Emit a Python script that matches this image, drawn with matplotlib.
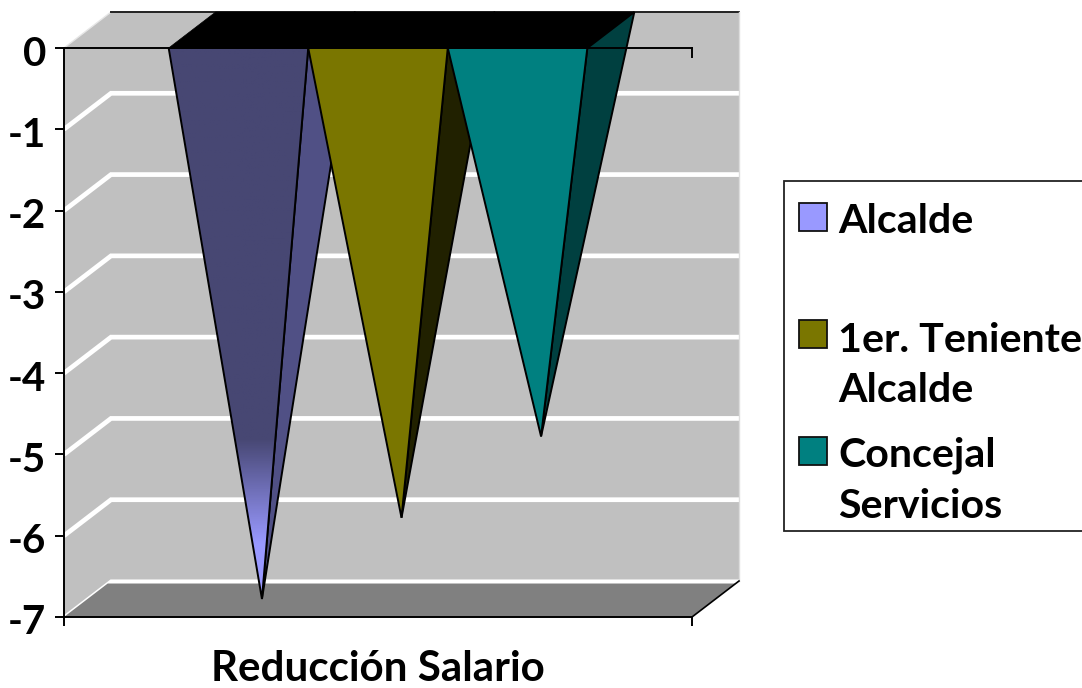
import numpy as np
import matplotlib
matplotlib.use("Agg")
import matplotlib.pyplot as plt
from matplotlib.patches import Polygon, Rectangle
from matplotlib.colors import LinearSegmentedColormap
from matplotlib.transforms import ScaledTranslation

# ---- data ----
series_names = ["Alcalde", "1er. Teniente\nAlcalde", "Concejal\nServicios"]
series_values = [-7, -6, -5]
y_ticks = [0, -1, -2, -3, -4, -5, -6, -7]
y_tick_labels = ["0", "-1", "-2", "-3", "-4", "-5", "-6", "-7"]
x_label = "Reducción Salario"
front_colors = ["#474773", "#7A7600", "#008080"]
side_colors = ["#505085", "#212100", "#004040"]
legend_colors = ["#9999FF", "#7A7600", "#008080"]

W, H = 1082, 688
plt.rcParams["font.family"] = ["Lato", "DejaVu Sans"]
fig = plt.figure(figsize=(W / 100, H / 100), dpi=100, facecolor="white")
ax = fig.add_axes([64 / W, 1 - 617 / H, 628 / W, 569 / H])
XMAX = 4.5
ax.set_xlim(0, XMAX)
ax.set_ylim(-7, 0)

# oblique depth, in data units
DX = 47 / (628 / XMAX)
DY = 36 / (569 / 7)


def proj(x, v, d=0.0):
    return (x + d * DX, v + d * DY)


def poly(pts, fc, ec="none", lw=0.0, z=1.0):
    p = Polygon(pts, closed=True, facecolor=fc, edgecolor=ec, linewidth=lw,
                zorder=z, clip_on=False, joinstyle="miter")
    ax.add_patch(p)
    return p


ymin = min(y_ticks)
ymax = max(y_ticks)
# walls and floor
poly([proj(0, ymax, 1), proj(XMAX, ymax, 1), proj(XMAX, ymin, 1), proj(0, ymin, 1)], "#C0C0C0", z=1)
poly([proj(0, ymax, 0), proj(0, ymax, 1), proj(0, ymin, 1), proj(0, ymin, 0)], "#C0C0C0", z=1)

# gridlines
for t in y_ticks[1:]:
    a, b, c = proj(0, t, 0), proj(0, t, 1), proj(XMAX, t, 1)
    lw = 3.4 if t != ymin else 2.2
    ax.plot([a[0], b[0], c[0]], [a[1], b[1], c[1]], color="white", lw=lw, zorder=1.1,
            clip_on=False, solid_joinstyle="miter", solid_capstyle="butt")

poly([proj(0, ymin, 0.0), proj(XMAX, ymin, 0), proj(XMAX, ymin, 0.93), proj(0, ymin, 0.93)],
     "#808080", z=1.2)
# edges of the box
e = [proj(0, ymax, 0), proj(0, ymax, 1)]
ax.plot(*zip(*e), color="#E6E6E6", lw=1.0, zorder=1.3, clip_on=False)
e = [proj(0, ymax, 1), proj(XMAX, ymax, 1)]
ax.plot(*zip(*e), color="#222222", lw=1.4, zorder=1.3, clip_on=False)
e = [proj(XMAX, ymax, 1), proj(XMAX, ymin, 1)]
ax.plot(*zip(*e), color="#DDDDDD", lw=1.0, zorder=1.3, clip_on=False)
e = [proj(XMAX, ymin, 0), proj(XMAX, ymin, 1)]
ax.plot(*zip(*e), color="black", lw=1.2, zorder=1.3, clip_on=False)

# pyramids
GAP = 0.75
z = 1.5
EDGE = 1.4
for i, (val, fc, sc) in enumerate(zip(series_values, front_colors, side_colors)):
    x0, x1 = GAP + i, GAP + i + 1
    mid = (x0 + x1) / 2
    apex = proj(mid, val, 0.5)
    poly([proj(x0, 0, 0), proj(x1, 0, 0), proj(x1, 0, 1), proj(x0, 0, 1)], "black", "black", 0.5, z)
    poly([proj(x1, 0, 0), proj(x1, 0, 1), apex], sc, "black", EDGE, z + 0.01)
    front = [proj(x0, 0, 0), proj(x1, 0, 0), apex]
    if i == 0:
        cmap = LinearSegmentedColormap.from_list(
            "g", [(0, fc), (0.71, fc), (0.90, legend_colors[0]), (1, legend_colors[0])])
        g = np.linspace(0, 1, 256).reshape(-1, 1)
        clip = poly(front, "none", z=z + 0.02)
        im = ax.imshow(g, cmap=cmap, aspect="auto", origin="upper",
                       extent=(x0, x1, apex[1], 0), zorder=z + 0.02)
        im.set_clip_path(clip)
        poly(front, "none", "black", EDGE, z + 0.03)
    else:
        poly(front, fc, "black", EDGE, z + 0.03)
    z += 0.1

ax.set_xlim(0, XMAX)
ax.set_ylim(-7, 0)

# axes
ax.spines["right"].set_visible(False)
for s in ["top", "left", "bottom"]:
    ax.spines[s].set_linewidth(1.4)
    ax.spines[s].set_color("black")
    ax.spines[s].set_zorder(3)
ax.patch.set_visible(False)
ax.set_yticks(y_ticks)
ax.set_yticklabels(y_tick_labels, fontsize=29, fontweight="bold")
ax.set_xticks([0, XMAX])
ax.set_xticklabels([])
ax.tick_params(axis="both", length=6.5, width=1.4, color="black")
ax.tick_params(axis="y", pad=6.5)
shift = ScaledTranslation(0, -2.5 / 72 * 0.72 * 1.0, fig.dpi_scale_trans)
for lab in ax.get_yticklabels():
    lab.set_transform(lab.get_transform() + shift)
ax.plot([XMAX, XMAX], [0, -0.11], color="black", lw=1.4, zorder=3, clip_on=False)
ax.set_xlabel(x_label, fontsize=30.3, fontweight="bold", labelpad=14)

# legend (runs off the right edge of the figure)
def fx(px):
    return px / W


def fy(py):
    return 1 - py / H


fig.add_artist(Rectangle((fx(784), fy(531)), 320 / W, 350 / H, transform=fig.transFigure,
                         facecolor="white", edgecolor="#222222", linewidth=1.3))
swatch_tops = [203, 320, 437]
text_baselines = [233, 402, 518]
for name, col, top, base in zip(series_names, legend_colors, swatch_tops, text_baselines):
    fig.add_artist(Rectangle((fx(799), fy(top + 28)), 28 / W, 28 / H, transform=fig.transFigure,
                             facecolor=col, edgecolor="#111111", linewidth=1.3))
    fig.text(fx(838), fy(base), name, fontsize=29.6, fontweight="bold", va="baseline", ha="left",
             color="black", linespacing=1.45)

fig.savefig("out.png", dpi=100, facecolor="white")
